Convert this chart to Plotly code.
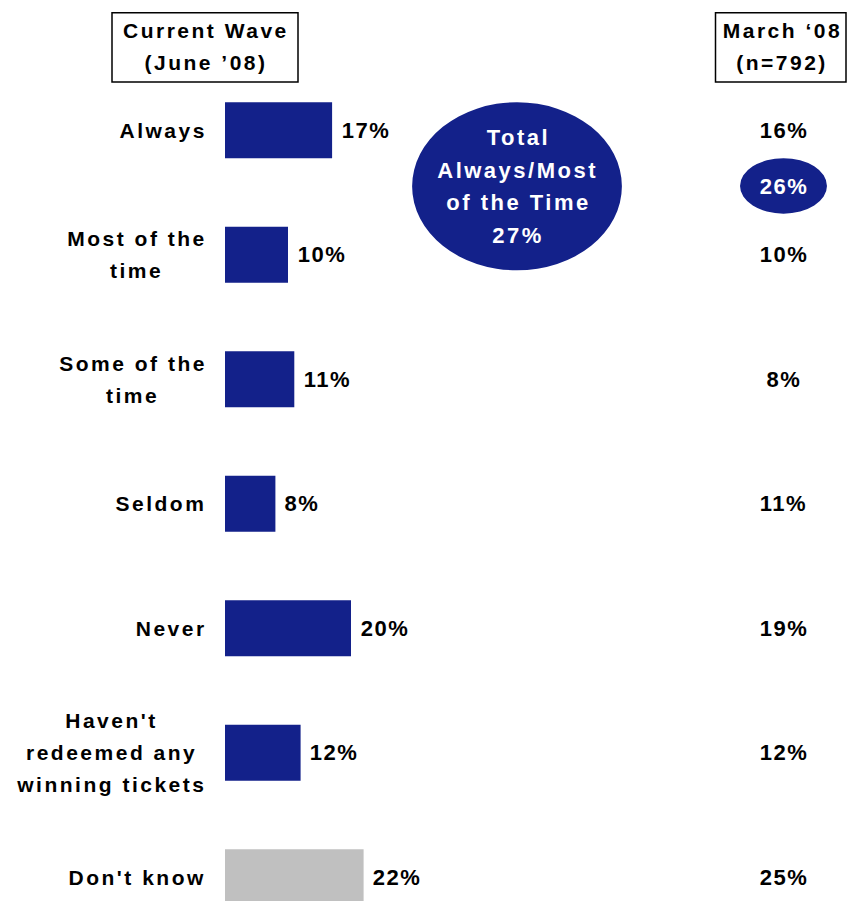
import json
import plotly.graph_objects as go

# Survey responses: how often winning tickets are redeemed
categories = [
    "Always",
    "Most of the|time",
    "Some of the|time",
    "Seldom",
    "Never",
    "Haven't|redeemed any|winning tickets",
    "Don't know",
]
june_08 = [17, 10, 11, 8, 20, 12, 22]
march_08 = [16, 10, 8, 11, 19, 12, 25]
total_always_most_june = 27
total_always_most_march = 26
header_current = ["Current Wave", "(June ’08)"]
header_march = ["March ‘08", "(n=792)"]

NAVY = "#13218A"
GRAY = "#C0C0C0"
FONT = "Liberation Sans, Arial, sans-serif"

W, H = 847, 901
ML, MT = 225, 68
PX_PER_PCT = 6.3
ROW_PX = 124.5
plot_w = W - ML
plot_h = H - MT
x_max = plot_w / PX_PER_PCT
y_span = plot_h / ROW_PX

rows = list(range(len(categories)))
colors = [NAVY] * (len(categories) - 1) + [GRAY]

# Arial Bold advance widths (per 1000 em) used to centre stacked label lines
_AW = {" ": 278, "'": 238, "’": 278, "‘": 278, "(": 333, ")": 333, "%": 889, "/": 278, "=": 584}
_AW.update({d: 556 for d in "0123456789"})
_AW.update(dict(zip("ABCDEFGHIJKLMNOPQRSTUVWXYZ",
                    [722, 722, 722, 722, 667, 611, 778, 722, 278, 556, 722, 611, 833,
                     722, 778, 667, 778, 722, 667, 611, 722, 667, 944, 667, 667, 611])))
_AW.update(dict(zip("abcdefghijklmnopqrstuvwxyz",
                    [556, 611, 556, 611, 556, 333, 611, 611, 278, 278, 556, 278, 889,
                     611, 611, 611, 611, 389, 556, 333, 611, 556, 778, 556, 556, 500])))


def text_width(s, size, ls):
    return sum(_AW.get(c, 556) for c in s) * size / 1000 + (len(s) - 1) * ls


fig = go.Figure()
fig.add_trace(go.Bar(
    x=june_08, y=rows, orientation="h",
    marker=dict(color=colors, line=dict(width=0)),
    width=0.45, hoverinfo="skip",
))

spacing = []  # letter spacing per annotation, applied after render


def label(text, size, ls=2.5, color="black", anchor="center", xshift=0, **kw):
    # glyphs are tracked around the text centre; shift so the visible ink keeps its anchor
    n = len(text)
    if anchor == "right":
        xshift -= (n - 2) * ls / 2
    elif anchor == "left":
        xshift += n * ls / 2
    else:
        xshift += ls / 2
    fig.add_annotation(text=text, showarrow=False, xanchor=anchor, yanchor="middle",
                       xshift=xshift,
                       font=dict(family=FONT, size=size, color=color, weight="bold"), **kw)
    spacing.append(ls)


def stacked(lines, pitch, size, ls=2.5, color="black", xshift=0, **kw):
    n = len(lines)
    for i, line in enumerate(lines):
        label(line, size, ls, color, xshift=xshift, yshift=((n - 1) / 2 - i) * pitch, **kw)


# category labels: block right-aligned to the bars, lines centred within it
LABEL_RIGHT = 204
for r, cat in zip(rows, categories):
    lines = cat.split("|")
    block = max(text_width(s, 21, 2.5) for s in lines)
    stacked(lines, 32, 21, x=0, xref="paper", y=r, yref="y",
            xshift=LABEL_RIGHT - ML - block / 2)

# value labels next to each bar
for r, v in zip(rows, june_08):
    label(f"{v}%", 22, 1.5, anchor="left", xshift=7.5, x=v, y=r, xref="x", yref="y")

# March '08 comparison column
MARCH_COL = 88.6
for r, v in zip(rows, march_08):
    label(f"{v}%", 22, 1.5, x=MARCH_COL, y=r, xref="x", yref="y")

# Total Always/Most of the Time callouts
fig.add_shape(type="circle", xref="x", yref="y",
              x0=29.7, x1=63.0, y0=-0.225, y1=1.125,
              fillcolor=NAVY, line=dict(color=NAVY, width=0), layer="above")
stacked(["Total", "Always/Most", "of the Time", f"{total_always_most_june}%"], 32.5, 22,
        color="white", x=46.35, y=0.45, xref="x", yref="y")
fig.add_shape(type="circle", xref="x", yref="y",
              x0=81.75, x1=95.55, y0=0.225, y1=0.67,
              fillcolor=NAVY, line=dict(color=NAVY, width=0), layer="above")
label(f"{total_always_most_march}%", 22, 1.5, color="white",
      x=MARCH_COL, y=0.45, xref="x", yref="y")


# column headers in outlined boxes
def px_x(p):
    return (p - ML) / plot_w


def px_y(p):
    return (H - p) / plot_h


for lines, (bx0, bx1) in ((header_current, (112, 298)), (header_march, (715.5, 846))):
    fig.add_shape(type="rect", xref="paper", yref="paper",
                  x0=px_x(bx0), x1=px_x(bx1), y0=px_y(82), y1=px_y(12.7),
                  line=dict(color="black", width=1.5), fillcolor="white")
    stacked(lines, 32, 21, x=px_x((bx0 + bx1) / 2), y=px_y(46.5), xref="paper", yref="paper")

fig.update_layout(
    width=W, height=H,
    margin=dict(l=ML, r=0, t=MT, b=0),
    paper_bgcolor="white", plot_bgcolor="white",
    showlegend=False,
    font=dict(family=FONT, color="black"),
    xaxis=dict(range=[0, x_max], visible=False, fixedrange=True),
    yaxis=dict(range=[y_span - 0.5, -0.5], visible=False, fixedrange=True),
)

post = """
var ls = %s;
document.querySelectorAll('.main-svg g.annotation').forEach(function(g){
  var i = +g.getAttribute('data-index');
  var t = g.querySelector('.annotation-text');
  if (t && ls[i] !== undefined) t.setAttribute('letter-spacing', ls[i] + 'px');
});
""" % json.dumps(spacing)
fig.write_html("out.html", config={"displayModeBar": False}, post_script=post)
